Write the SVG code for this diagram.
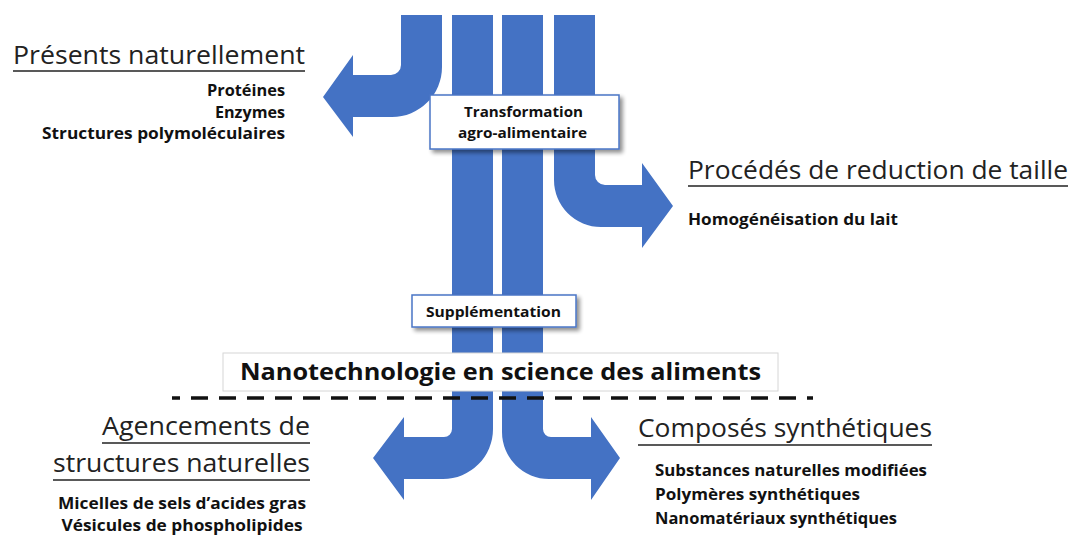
<svg xmlns="http://www.w3.org/2000/svg" width="1077" height="537" viewBox="0 0 1077 537">
  <defs>
    <filter id="shadow" x="-10%" y="-20%" width="130%" height="160%">
      <feGaussianBlur in="SourceAlpha" stdDeviation="2"/>
      <feOffset dx="2.5" dy="2.5" result="b"/>
      <feComponentTransfer><feFuncA type="linear" slope="0.45"/></feComponentTransfer>
      <feMerge><feMergeNode/><feMergeNode in="SourceGraphic"/></feMerge>
    </filter>
  </defs>
  <style>
    .flow { fill: #4472C4; }
    .title { font-family: "Open Sans", "Liberation Sans", sans-serif; font-size: 25.5px; fill: #222; }
    .item { font-family: "Open Sans", "Liberation Sans", sans-serif; font-size: 16.5px; font-weight: bold; fill: #111; }
    .boxtxt { font-family: "Open Sans", "Liberation Sans", sans-serif; font-size: 15px; font-weight: bold; fill: #111; text-anchor: middle; }
    .nano { font-family: "Open Sans", "Liberation Sans", sans-serif; font-size: 23px; font-weight: bold; fill: #111; text-anchor: middle; }
    .ul { stroke: #222; stroke-width: 1.6; }
    .bluebox { fill: #fff; stroke: #4A76C6; stroke-width: 1.5; }
  </style>
  <rect width="1077" height="537" fill="#fff"/>

  <g id="connectors">
    <path class="flow" d="M401,15 H442 V67 A50,50 0 0 1 392,117 H353 V137 L323,97 L353,55 V75 H391 A10,10 0 0 0 401,65 Z"/>
    <path class="flow" d="M554,15 H595 V175 A10,10 0 0 0 605,185 H642 V163 L673,206 L642,248 V227 H601 A47,47 0 0 1 554,180 Z"/>
    <path class="flow" d="M452,15 H493 V429 A50,50 0 0 1 443,479 H404 V500 L373,458 L404,417 V437 H444 A8,8 0 0 0 452,429 Z"/>
    <path class="flow" d="M502,15 H543 V429 A8,8 0 0 0 551,437 H591 V417 L620,458 L591,500 V479 H549 A47,47 0 0 1 502,432 Z"/>
  </g>

  <g id="node-transformation">
    <rect class="bluebox" x="430" y="95" width="189" height="54" filter="url(#shadow)"/>
    <text class="boxtxt" x="523.5" y="117" textLength="119" lengthAdjust="spacingAndGlyphs">Transformation</text>
    <text class="boxtxt" x="522.5" y="138" textLength="129" lengthAdjust="spacingAndGlyphs">agro-alimentaire</text>
  </g>

  <g id="node-supplementation">
    <rect class="bluebox" x="412" y="295" width="164" height="32" filter="url(#shadow)"/>
    <text class="boxtxt" x="493.5" y="317" textLength="135" lengthAdjust="spacingAndGlyphs">Supplémentation</text>
  </g>

  <g id="node-nanotechnologie">
    <rect x="223" y="353" width="555" height="38" fill="#fff" stroke="#d6d6d6" stroke-width="1"/>
    <text class="nano" x="500.5" y="380" textLength="521" lengthAdjust="spacingAndGlyphs">Nanotechnologie en science des aliments</text>
  </g>

  <g id="separator">
    <line x1="172" y1="398" x2="813" y2="398" stroke="#111" stroke-width="3.5" stroke-dasharray="17 11" stroke-dashoffset="9"/>
  </g>

  <g id="node-presents">
    <text class="title" x="13" y="64" textLength="292" lengthAdjust="spacingAndGlyphs">Présents naturellement</text>
    <line class="ul" x1="13" y1="71" x2="305" y2="71"/>
    <text class="item" x="285" y="96" text-anchor="end" textLength="78" lengthAdjust="spacingAndGlyphs">Protéines</text>
    <text class="item" x="285" y="118" text-anchor="end" textLength="70" lengthAdjust="spacingAndGlyphs">Enzymes</text>
    <text class="item" x="285" y="139" text-anchor="end" textLength="243" lengthAdjust="spacingAndGlyphs">Structures polymoléculaires</text>
  </g>

  <g id="node-procedes">
    <text class="title" x="688" y="179" textLength="380" lengthAdjust="spacingAndGlyphs">Procédés de reduction de taille</text>
    <line class="ul" x1="688" y1="186" x2="1068" y2="186"/>
    <text class="item" x="688" y="225" textLength="210" lengthAdjust="spacingAndGlyphs">Homogénéisation du lait</text>
  </g>

  <g id="node-agencements">
    <text class="title" x="310" y="435" text-anchor="end" textLength="208" lengthAdjust="spacingAndGlyphs">Agencements de</text>
    <line class="ul" x1="102" y1="443" x2="310" y2="443"/>
    <text class="title" x="310" y="472" text-anchor="end" textLength="257" lengthAdjust="spacingAndGlyphs">structures naturelles</text>
    <line class="ul" x1="53" y1="480" x2="310" y2="480"/>
    <text class="item" x="182" y="509" text-anchor="middle" textLength="248" lengthAdjust="spacingAndGlyphs">Micelles de sels d’acides gras</text>
    <text class="item" x="182" y="531" text-anchor="middle" textLength="241" lengthAdjust="spacingAndGlyphs">Vésicules de phospholipides</text>
  </g>

  <g id="node-composes">
    <text class="title" x="638" y="437" textLength="294" lengthAdjust="spacingAndGlyphs">Composés synthétiques</text>
    <line class="ul" x1="638" y1="445" x2="932" y2="445"/>
    <text class="item" x="655" y="476" textLength="272" lengthAdjust="spacingAndGlyphs">Substances naturelles modifiées</text>
    <text class="item" x="655" y="500" textLength="205" lengthAdjust="spacingAndGlyphs">Polymères synthétiques</text>
    <text class="item" x="655" y="524" textLength="242" lengthAdjust="spacingAndGlyphs">Nanomatériaux synthétiques</text>
  </g>
</svg>
